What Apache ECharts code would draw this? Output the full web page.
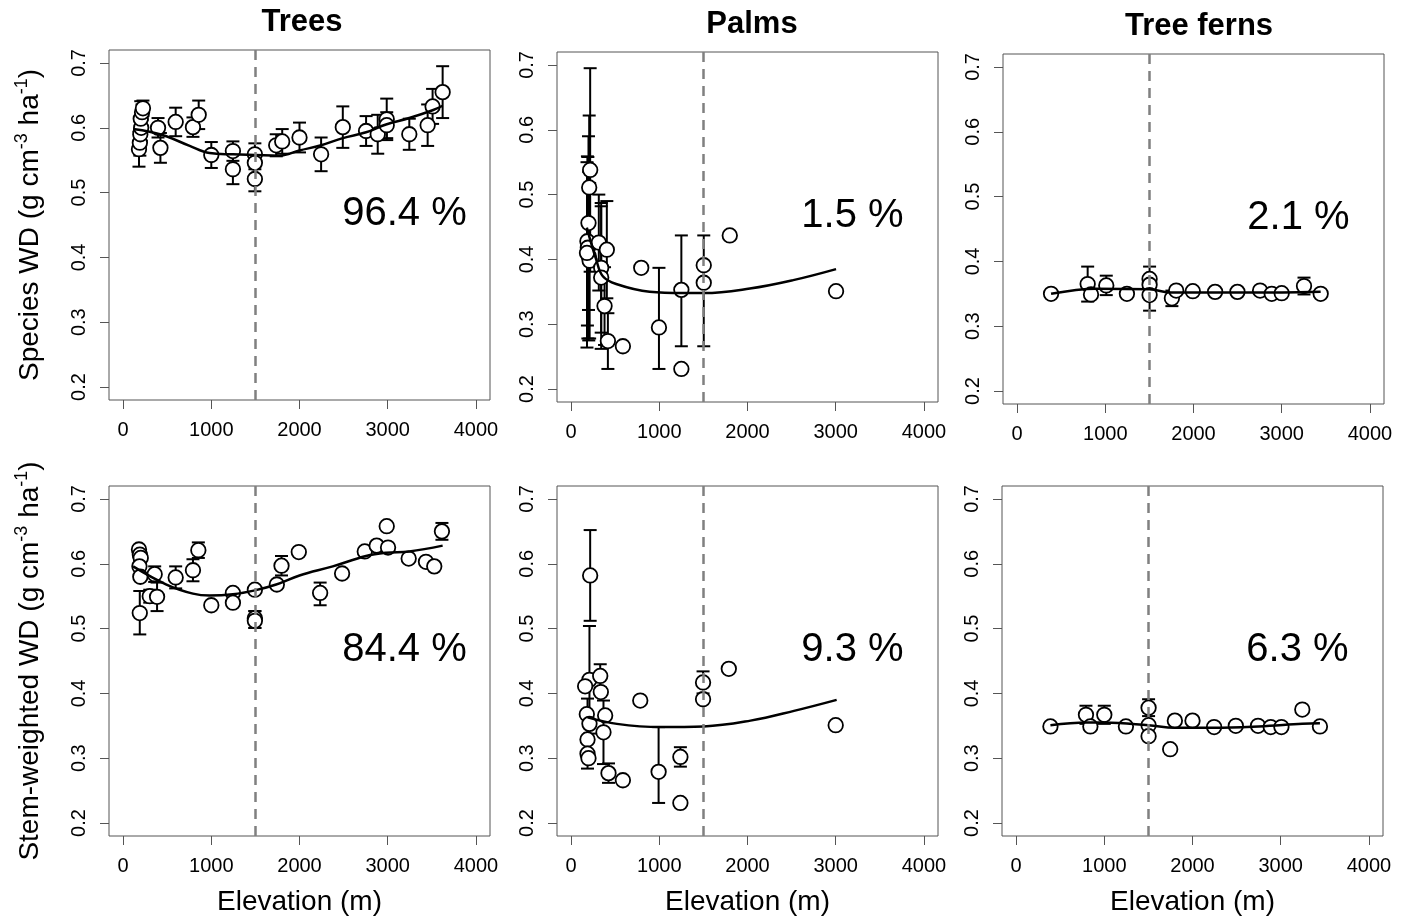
<!DOCTYPE html>
<html>
<head>
<meta charset="utf-8">
<script src="https://cdn.jsdelivr.net/npm/echarts@6/dist/echarts.min.js"></script>
<style>html,body{margin:0;padding:0;background:#fff}#c{width:1413px;height:923px}</style>
</head>
<body>
<div id="c"></div>
<script>
// ---------- tick labels / text ----------
const xTicks = [0, 1000, 2000, 3000, 4000];
const yTicks = [0.2, 0.3, 0.4, 0.5, 0.6, 0.7];
const panelTitles = ['Trees', 'Palms', 'Tree ferns'];
const pctLabels = ['96.4 %', '1.5 %', '2.1 %', '84.4 %', '9.3 %', '6.3 %'];
const xName = 'Elevation (m)';
const yNames = ['{n|Species WD (g cm}{s|-3}{n| ha}{s|-1}{n|)}', '{n|Stem-weighted WD (g cm}{s|-3}{n| ha}{s|-1}{n|)}'];
const breakElevation = 1500;
const pctPos = [3190, 0.467];

// ---------- Panel 1: Trees, species WD ----------
const p1X  = [180, 190, 195, 205, 200, 215, 225, 396, 423, 596, 792, 857, 1000, 1245, 1245, 1494, 1494, 1494, 1736, 1804, 2000, 2245, 2491, 2755, 2887, 2989, 2989, 3245, 3453, 3509, 3623];
const p1Y  = [0.567,0.577,0.590,0.600,0.614,0.624,0.630,0.600,0.569,0.609,0.601,0.620,0.558,0.564,0.536,0.559,0.546,0.521,0.573,0.579,0.585,0.559,0.601,0.595,0.590,0.613,0.604,0.590,0.604,0.633,0.655];
const p1Lo = [0.540,0.557,0.570,0.580,0.587,0.612,0.618,0.585,0.546,0.587,0.586,0.598,0.538,0.549,0.513,0.542,0.536,0.502,0.556,0.560,0.562,0.533,0.569,0.572,0.560,0.581,0.584,0.566,0.572,0.606,0.615];
const p1Hi = [0.594,0.597,0.610,0.620,0.641,0.636,0.642,0.615,0.592,0.631,0.616,0.642,0.578,0.579,0.559,0.576,0.556,0.540,0.590,0.598,0.608,0.585,0.633,0.618,0.620,0.645,0.624,0.614,0.636,0.660,0.695];
const p1CurveX = [113, 300, 490, 755, 981, 1245, 1494, 1774, 2000, 2245, 2491, 2755, 2981, 3245, 3509, 3623];
const p1CurveY = [0.598,0.594,0.587,0.572,0.561,0.559,0.558,0.557,0.565,0.573,0.584,0.593,0.605,0.615,0.627,0.634];

// ---------- Panel 2: Palms, species WD ----------
const p2X  = [216, 205, 197, 185, 190, 200, 210, 180, 314, 405, 341, 341, 379, 417, 587, 795, 996, 1250, 1250, 1504, 1504, 1799, 3004];
const p2Y  = [0.538,0.511,0.456,0.428,0.418,0.405,0.398,0.410,0.426,0.415,0.387,0.372,0.328,0.274,0.266,0.387,0.295,0.353,0.231,0.391,0.364,0.437,0.351];
const p2Lo = [0.381,0.400,0.322,0.298,0.278,0.275,0.278,0.264,0.352,0.340,0.287,0.262,0.268,0.231,null,null,0.231,0.266,null,0.266,null,null,null];
const p2Hi = [0.695,0.622,0.590,0.559,0.558,0.535,0.518,0.550,0.500,0.490,0.487,0.482,0.388,0.317,null,null,0.387,0.437,null,0.437,null,null,null];
const p2CurveX = [178, 284, 360, 511, 890, 1269, 1504, 2027, 2519, 3004];
const p2CurveY = [0.449,0.400,0.374,0.362,0.350,0.348,0.348,0.355,0.368,0.385];

// ---------- Panel 3: Tree ferns, species WD ----------
const p3X  = [385, 800, 838, 1011, 1245, 1502, 1502, 1502, 1755, 1804, 1992, 2245, 2498, 2755, 2887, 3000, 3253, 3442];
const p3Y  = [0.350,0.365,0.349,0.363,0.350,0.373,0.364,0.348,0.343,0.355,0.354,0.353,0.353,0.355,0.350,0.351,0.362,0.350];
const p3Lo = [null,0.338,null,0.348,null,0.354,null,0.324,0.331,null,null,null,null,null,null,null,0.349,null];
const p3Hi = [null,0.392,null,0.378,null,0.392,null,0.372,0.355,null,null,null,null,null,null,null,0.375,null];
const p3CurveX = [385, 900, 1500, 1750, 2000, 2500, 3000, 3442];
const p3CurveY = [0.350,0.358,0.357,0.352,0.352,0.352,0.352,0.353];

// ---------- Panel 4: Trees, stem-weighted WD ----------
const p4X  = [180, 190, 200, 185, 195, 189, 358, 302, 385, 596, 792, 853, 1000, 1245, 1245, 1494, 1494, 1494, 1743, 1796, 1992, 2234, 2483, 2740, 2875, 2989, 3004, 3238, 3434, 3528, 3615];
const p4Y  = [0.622,0.614,0.609,0.596,0.580,0.524,0.584,0.550,0.549,0.579,0.590,0.621,0.536,0.555,0.540,0.560,0.516,0.512,0.568,0.597,0.618,0.555,0.585,0.619,0.628,0.658,0.625,0.608,0.603,0.596,0.650];
const p4Lo = [null,null,null,null,null,0.491,0.572,0.540,0.527,0.562,0.573,0.609,null,null,null,null,0.501,0.501,null,0.582,null,0.536,null,null,null,null,null,null,null,null,0.637];
const p4Hi = [null,null,null,null,null,0.558,0.596,0.560,0.571,0.596,0.607,0.633,null,null,null,null,0.527,0.527,null,0.612,null,0.571,null,null,null,null,null,null,null,null,0.663];
const p4CurveX = [113, 491, 792, 981, 1245, 1494, 1736, 2000, 2377, 2755, 2981, 3245, 3623];
const p4CurveY = [0.596,0.568,0.554,0.551,0.553,0.559,0.568,0.582,0.596,0.612,0.617,0.619,0.628];

// ---------- Panel 5: Palms, stem-weighted WD ----------
const p5X  = [216, 208, 159, 330, 337, 386, 178, 208, 367, 186, 186, 197, 424, 587, 784, 992, 1239, 1239, 1496, 1496, 1788, 3000];
const p5Y  = [0.582,0.421,0.411,0.427,0.402,0.366,0.368,0.353,0.340,0.329,0.307,0.300,0.277,0.266,0.389,0.279,0.302,0.231,0.417,0.391,0.438,0.351];
const p5Lo = [0.512,0.338,null,0.409,null,null,null,null,0.291,null,0.284,null,0.262,null,null,0.231,0.287,null,0.400,null,null,null];
const p5Hi = [0.652,0.504,null,0.445,null,null,null,null,0.389,null,0.392,null,0.292,null,null,0.348,0.317,null,0.434,null,null,null];
const p5CurveX = [186, 519, 1011, 1504, 2034, 2527, 3011];
const p5CurveY = [0.363,0.353,0.348,0.349,0.358,0.373,0.390];

// ---------- Panel 6: Tree ferns, stem-weighted WD ----------
const p6X  = [389, 792, 842, 1000, 1245, 1502, 1502, 1502, 1747, 1800, 2000, 2245, 2491, 2743, 2887, 3008, 3245, 3445];
const p6Y  = [0.349,0.367,0.349,0.367,0.349,0.378,0.351,0.334,0.314,0.358,0.358,0.348,0.350,0.350,0.348,0.348,0.375,0.349];
const p6Lo = [null,0.353,null,0.353,null,0.365,null,null,null,null,null,null,null,null,null,null,null,null];
const p6Hi = [null,0.381,null,0.381,null,0.391,null,null,null,null,null,null,null,null,null,null,null,null];
const p6CurveX = [389, 800, 1000, 1500, 1800, 2245, 2750, 3245, 3445];
const p6CurveY = [0.351,0.355,0.355,0.351,0.347,0.347,0.349,0.353,0.354];

// ---------- build ----------
const panels = [
  [p1X, p1Y, p1Lo, p1Hi, p1CurveX, p1CurveY],
  [p2X, p2Y, p2Lo, p2Hi, p2CurveX, p2CurveY],
  [p3X, p3Y, p3Lo, p3Hi, p3CurveX, p3CurveY],
  [p4X, p4Y, p4Lo, p4Hi, p4CurveX, p4CurveY],
  [p5X, p5Y, p5Lo, p5Hi, p5CurveX, p5CurveY],
  [p6X, p6Y, p6Lo, p6Hi, p6CurveX, p6CurveY]
];

const FONT = "'Liberation Sans', Arial, Helvetica, sans-serif";
const gridLefts = [109, 557, 1003, 109, 557, 1002];
const gridTops = [50, 52, 54, 486, 486, 486];
const GW = 381, GH = 350;

const grids = [], xAxes = [], yAxes = [], series = [], graphics = [];

panels.forEach((p, i) => {
  const [xs, ys, lo, hi, cx, cy] = p;
  const bottomRow = i >= 3, leftCol = i % 3 === 0;
  grids.push({ left: gridLefts[i], top: gridTops[i], width: GW, height: GH, show: true,
    borderColor: '#555', borderWidth: 1, backgroundColor: 'transparent', containLabel: false });
  xAxes.push({
    type: 'value', gridIndex: i, min: -160, max: 4160, position: 'bottom',
    axisLine: { show: false, onZero: false },
    axisTick: { show: true, inside: false, length: 9, lineStyle: { color: '#555', width: 1 }, customValues: xTicks },
    axisLabel: { show: true, customValues: xTicks, margin: 20, fontSize: 20, color: '#000', fontFamily: FONT,
      formatter: v => String(v) },
    splitLine: { show: false },
    name: bottomRow ? xName : '', nameLocation: 'middle', nameGap: 52,
    nameTextStyle: { fontSize: 28, color: '#000', fontFamily: FONT }
  });
  yAxes.push({
    type: 'value', gridIndex: i, min: 0.18, max: 0.72, position: 'left',
    axisLine: { show: false, onZero: false },
    axisTick: { show: true, inside: false, length: 9, lineStyle: { color: '#555', width: 1 }, customValues: yTicks },
    axisLabel: { show: true, customValues: yTicks, rotate: 90, margin: 20, fontSize: 20, color: '#000', fontFamily: FONT,
      formatter: v => v.toFixed(1) },
    splitLine: { show: false },
    name: leftCol ? yNames[bottomRow ? 1 : 0] : '', nameLocation: 'middle', nameRotate: 90, nameGap: 62,
    nameTextStyle: { color: '#000', fontFamily: FONT,
      rich: { n: { fontSize: 28, fontFamily: FONT, color: '#000', lineHeight: 34 },
              s: { fontSize: 18, fontFamily: FONT, color: '#000', lineHeight: 34, verticalAlign: 'top', padding: [0, 0, 10, 0] } } }
  });

  // dashed reference line
  series.push({
    type: 'line', xAxisIndex: i, yAxisIndex: i, data: [], z: 1, silent: true,
    markLine: { symbol: ['none', 'none'], silent: true, label: { show: false },
      lineStyle: { color: '#808080', type: [10, 7], width: 2.5, opacity: 1 },
      emphasis: { disabled: true },
      data: [{ xAxis: breakElevation }] }
  });
  // error bars
  const ebData = [];
  xs.forEach((x, k) => { if (lo[k] != null && hi[k] != null) ebData.push([x, lo[k], hi[k]]); });
  series.push({
    type: 'custom', xAxisIndex: i, yAxisIndex: i, z: 2, silent: true,
    encode: { x: 0, y: [1, 2] }, data: ebData,
    renderItem: (params, api) => {
      const x = api.value(0);
      const a = api.coord([x, api.value(1)]), b = api.coord([x, api.value(2)]);
      const w = 6.5, st = { stroke: '#000', lineWidth: 2 };
      return { type: 'group', children: [
        { type: 'line', shape: { x1: a[0], y1: a[1], x2: b[0], y2: b[1] }, style: st },
        { type: 'line', shape: { x1: a[0] - w, y1: a[1], x2: a[0] + w, y2: a[1] }, style: st },
        { type: 'line', shape: { x1: b[0] - w, y1: b[1], x2: b[0] + w, y2: b[1] }, style: st }
      ]};
    }
  });
  // points
  series.push({
    type: 'scatter', xAxisIndex: i, yAxisIndex: i, z: 3, silent: true,
    symbol: 'circle', symbolSize: 14.5,
    itemStyle: { color: '#fff', borderColor: '#000', borderWidth: 1.8, opacity: 1 },
    data: xs.map((x, k) => [x, ys[k]])
  });
  // fitted curve
  series.push({
    type: 'line', xAxisIndex: i, yAxisIndex: i, z: 4, silent: true, smooth: 0.4,
    showSymbol: false, symbol: 'none',
    lineStyle: { color: '#000', width: 2.5 },
    data: cx.map((x, k) => [x, cy[k]])
  });
  // percentage annotation
  series.push({
    type: 'scatter', xAxisIndex: i, yAxisIndex: i, z: 5, silent: true, symbolSize: 0,
    itemStyle: { opacity: 1 },
    data: [pctPos],
    label: { show: true, position: 'inside', formatter: pctLabels[i], fontSize: 40, color: '#000', opacity: 1, fontFamily: FONT }
  });
});

// panel titles
const titleCenters = [302, 752, 1199];
panelTitles.forEach((t, i) => {
  graphics.push({ type: 'text', x: titleCenters[i], y: gridTops[i] - 28, silent: true,
    style: { text: t, fill: '#000', font: "bold 31px 'Liberation Sans', Arial, sans-serif", textAlign: 'center', textVerticalAlign: 'middle' } });
});

const chart = echarts.init(document.getElementById('c'), null, { renderer: 'canvas' });
chart.setOption({
  backgroundColor: '#fff',
  animation: false,
  grid: grids, xAxis: xAxes, yAxis: yAxes, series: series, graphic: graphics
});
</script>
</body>
</html>
